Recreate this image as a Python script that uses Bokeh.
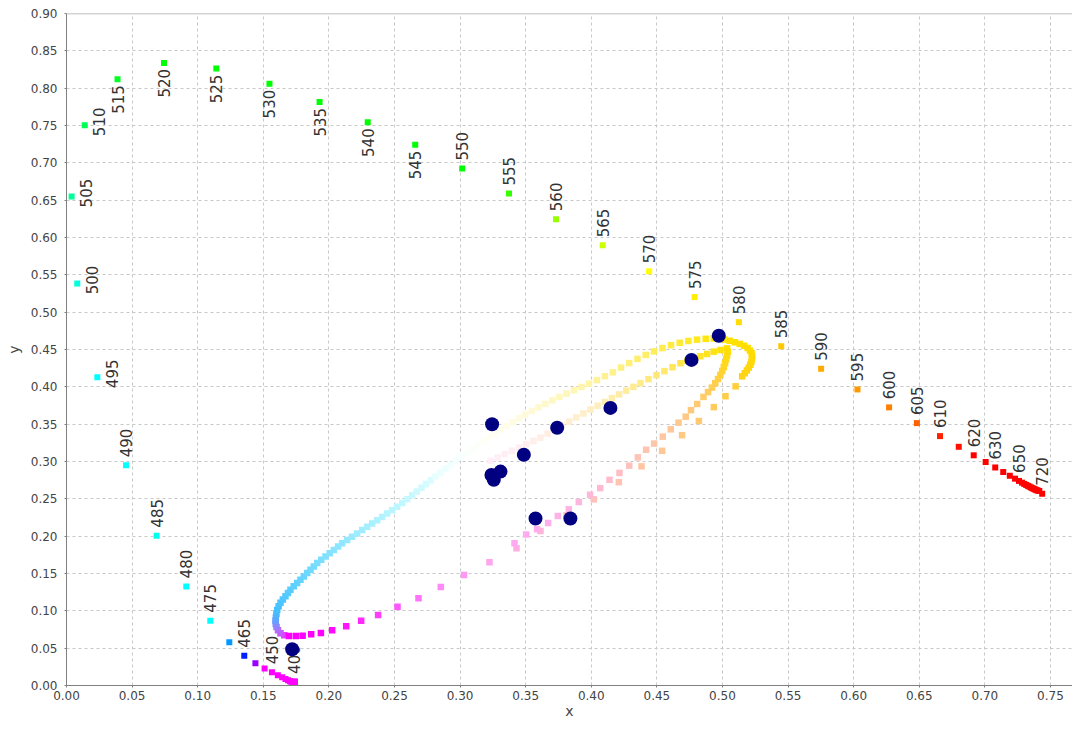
import math
from bokeh.plotting import figure
from bokeh.models import ColumnDataSource, FixedTicker, PrintfTickFormatter, Span
from bokeh.embed import file_html
from bokeh.resources import INLINE
from bokeh.core.properties import value

# ---------------- data ----------------
wavelengths = list(range(380, 725, 5))
locus_x = [0.1741, 0.1740, 0.1738, 0.1736, 0.1733, 0.1730, 0.1726, 0.1721, 0.1714, 0.1703,
           0.1689, 0.1669, 0.1644, 0.1611, 0.1566, 0.1510, 0.1440, 0.1355, 0.1241, 0.1096,
           0.0913, 0.0687, 0.0454, 0.0235, 0.0082, 0.0039, 0.0139, 0.0389, 0.0743, 0.1142,
           0.1547, 0.1929, 0.2296, 0.2658, 0.3016, 0.3373, 0.3731, 0.4087, 0.4441, 0.4788,
           0.5125, 0.5448, 0.5752, 0.6029, 0.6270, 0.6482, 0.6658, 0.6801, 0.6915, 0.7006,
           0.7079, 0.7140, 0.7190, 0.7230, 0.7260,
           0.7283, 0.7300, 0.7315, 0.7328, 0.7340, 0.7351, 0.7361, 0.7370, 0.7379, 0.7387,
           0.7395, 0.7403, 0.7415, 0.7437]
locus_y = [0.0050, 0.0050, 0.0049, 0.0049, 0.0048, 0.0048, 0.0048, 0.0048, 0.0051, 0.0058,
           0.0069, 0.0086, 0.0109, 0.0138, 0.0177, 0.0227, 0.0297, 0.0399, 0.0578, 0.0868,
           0.1327, 0.2007, 0.2950, 0.4127, 0.5384, 0.6548, 0.7502, 0.8120, 0.8338, 0.8262,
           0.8059, 0.7816, 0.7543, 0.7243, 0.6923, 0.6589, 0.6245, 0.5896, 0.5547, 0.5202,
           0.4866, 0.4544, 0.4242, 0.3965, 0.3725, 0.3514, 0.3340, 0.3197, 0.3083, 0.2993,
           0.2920, 0.2859, 0.2809, 0.2770, 0.2740,
           0.2717, 0.2700, 0.2686, 0.2674, 0.2663, 0.2653, 0.2644, 0.2636, 0.2629, 0.2622,
           0.2616, 0.2611, 0.2605, 0.2568]

label_wl = [400, 450, 465, 475, 480, 485, 490, 495, 500, 505, 510, 515, 520, 525, 530, 535,
            540, 545, 550, 555, 560, 565, 570, 575, 580, 585, 590, 595, 600, 605, 610, 620,
            630, 650, 720]

# outer loop, in order: bend, cyan arc, pale arc, top arc, turn, descending row
bend_x = [0.1660, 0.1631, 0.1612, 0.1601, 0.1595, 0.1593, 0.1596, 0.1600]
bend_y = [0.0672, 0.0700, 0.0740, 0.0782, 0.0825, 0.0868, 0.0910, 0.0960]
cyan_x = [0.1606, 0.1617, 0.1631, 0.1649, 0.1669, 0.1688, 0.1707, 0.1732, 0.1758, 0.1783,
          0.1809, 0.1835, 0.1860, 0.1885, 0.1911, 0.1942, 0.1974, 0.2006, 0.2038, 0.2070,
          0.2101, 0.2139, 0.2177, 0.2215, 0.2254, 0.2292, 0.2330, 0.2368, 0.2406, 0.2444,
          0.2482, 0.2520, 0.2559, 0.2597, 0.2635, 0.2670, 0.2705, 0.2740, 0.2775]
cyan_y = [0.1012, 0.1060, 0.1107, 0.1151, 0.1195, 0.1240, 0.1284, 0.1329, 0.1373, 0.1417,
          0.1461, 0.1506, 0.1550, 0.1595, 0.1639, 0.1683, 0.1727, 0.1771, 0.1815, 0.1860,
          0.1904, 0.1948, 0.1992, 0.2037, 0.2081, 0.2126, 0.2170, 0.2214, 0.2258, 0.2302,
          0.2347, 0.2395, 0.2445, 0.2496, 0.2548, 0.2598, 0.2648, 0.2698, 0.2748]
pale_x = [0.2812, 0.2850, 0.2888, 0.2927, 0.2966, 0.3006, 0.3047, 0.3089, 0.3131, 0.3174,
          0.3218, 0.3262, 0.3307, 0.3353, 0.3400, 0.3448, 0.3497, 0.3547, 0.3598, 0.3650,
          0.3703, 0.3757, 0.3812, 0.3868, 0.3925, 0.3983]
pale_y = [0.2800, 0.2852, 0.2904, 0.2956, 0.3008, 0.3060, 0.3112, 0.3164, 0.3216, 0.3268,
          0.3320, 0.3372, 0.3424, 0.3476, 0.3527, 0.3578, 0.3628, 0.3677, 0.3725, 0.3772,
          0.3818, 0.3864, 0.3909, 0.3954, 0.3998, 0.4042]
top_x = [0.4043, 0.4104, 0.4165, 0.4227, 0.4289, 0.4352, 0.4415, 0.4478, 0.4542, 0.4608,
         0.4674, 0.4740, 0.4806, 0.4872, 0.4934]
top_y = [0.4090, 0.4142, 0.4194, 0.4258, 0.4318, 0.4374, 0.4427, 0.4475, 0.4519, 0.4558,
         0.4590, 0.4614, 0.4632, 0.4643, 0.4648]
turn_x = [0.4975, 0.5015, 0.5055, 0.5095, 0.5132, 0.5165, 0.5192, 0.5210, 0.5222, 0.5226,
          0.5225, 0.5220, 0.5212, 0.5200, 0.5186, 0.5170, 0.5150]
turn_y = [0.4645, 0.4633, 0.4617, 0.4597, 0.4575, 0.4550, 0.4520, 0.4485, 0.4448, 0.4410,
          0.4372, 0.4334, 0.4296, 0.4258, 0.4220, 0.4182, 0.4140]
rowb_x = [0.5100, 0.5023, 0.4934, 0.4820, 0.4692, 0.4540, 0.4383, 0.4210, 0.4019, 0.3811,
          0.3613, 0.3430, 0.3224, 0.3030, 0.2853, 0.2683, 0.2523, 0.2375, 0.2246, 0.2132,
          0.2025, 0.1939, 0.1865, 0.1800, 0.1748, 0.1695]
rowb_y = [0.4007, 0.3874, 0.3728, 0.3542, 0.3352, 0.3143, 0.2935, 0.2723, 0.2493, 0.2280,
          0.2068, 0.1838, 0.1650, 0.1480, 0.1320, 0.1169, 0.1054, 0.0943, 0.0868, 0.0793,
          0.0740, 0.0704, 0.0687, 0.0667, 0.0664, 0.0664]

# inner curve: rising branch and steep descending branch
innerA_x = [0.3232, 0.3286, 0.3341, 0.3395, 0.3450, 0.3504, 0.3559, 0.3613, 0.3667, 0.3722,
            0.3776, 0.3831, 0.3885, 0.3940, 0.3994, 0.4048, 0.4103, 0.4157, 0.4212, 0.4266,
            0.4321, 0.4375, 0.4436, 0.4497, 0.4558, 0.4619, 0.4680, 0.4731, 0.4782, 0.4832,
            0.4883, 0.4934, 0.4985, 0.5035]
innerA_y = [0.3010, 0.3054, 0.3099, 0.3143, 0.3187, 0.3231, 0.3276, 0.3320, 0.3374, 0.3428,
            0.3482, 0.3535, 0.3589, 0.3643, 0.3697, 0.3747, 0.3798, 0.3848, 0.3899, 0.3949,
            0.4000, 0.4050, 0.4103, 0.4156, 0.4210, 0.4263, 0.4316, 0.4347, 0.4378, 0.4409,
            0.4440, 0.4471, 0.4493, 0.4515]
innerB_x = [0.5040, 0.5035, 0.5028, 0.5020, 0.5010, 0.4998, 0.4984, 0.4966, 0.4945, 0.4920,
            0.4890, 0.4855, 0.4807, 0.4760, 0.4720, 0.4665, 0.4606, 0.4545, 0.4479, 0.4418,
            0.4355, 0.4289, 0.4215, 0.4139, 0.4068, 0.3991, 0.3905, 0.3829, 0.3745, 0.3671,
            0.3587, 0.3504, 0.3415]
innerB_y = [0.4470, 0.4420, 0.4370, 0.4318, 0.4265, 0.4212, 0.4160, 0.4105, 0.4048, 0.3990,
            0.3930, 0.3865, 0.3770, 0.3688, 0.3600, 0.3520, 0.3431, 0.3333, 0.3240, 0.3157,
            0.3055, 0.2944, 0.2847, 0.2754, 0.2643, 0.2555, 0.2457, 0.2360, 0.2271, 0.2178,
            0.2094, 0.2022, 0.1905]

dots_x = [0.1720, 0.4972, 0.4764, 0.3244, 0.3740, 0.4146, 0.3486, 0.3308, 0.3239, 0.3257,
          0.3575, 0.3841]
dots_y = [0.0486, 0.4684, 0.4361, 0.3498, 0.3453, 0.3718, 0.3090, 0.2865, 0.2820, 0.2754,
          0.2236, 0.2236]

x_ticks = [0.00, 0.05, 0.10, 0.15, 0.20, 0.25, 0.30, 0.35, 0.40, 0.45, 0.50, 0.55, 0.60,
           0.65, 0.70, 0.75]
y_ticks = [0.00, 0.05, 0.10, 0.15, 0.20, 0.25, 0.30, 0.35, 0.40, 0.45, 0.50, 0.55, 0.60,
           0.65, 0.70, 0.75, 0.80, 0.85, 0.90]

# ---------------- styling helpers ----------------
def spec_color(w):
    table = {460: "#9900ff", 465: "#0022ff", 470: "#0099ff", 475: "#00ffff", 480: "#00ffff",
             485: "#00fff0", 490: "#00ffff", 495: "#00ffff", 500: "#00ffdd", 505: "#00ff99",
             510: "#00ff55", 515: "#00ff22", 555: "#33ff00", 560: "#99ff00", 565: "#ccff00",
             570: "#ffff00", 575: "#ffee00", 580: "#ffdd00", 585: "#ffc800", 590: "#ffaa00",
             595: "#ff9900", 600: "#ff8000", 605: "#ff6000", 610: "#ff2200", 615: "#ff1000"}
    if w <= 455:
        return "#ff00ff"
    if w in table:
        return table[w]
    if 520 <= w <= 550:
        return "#00ff00"
    return "#ff0000"


def _rgb(h):
    return tuple(int(h[i:i + 2], 16) for i in (1, 3, 5))


def ramp(n, stops):
    out = []
    for i in range(n):
        t = (i / (n - 1)) * (len(stops) - 1) if n > 1 else 0
        k = min(int(t), len(stops) - 2)
        f = t - k
        a, b = _rgb(stops[k]), _rgb(stops[k + 1])
        out.append("#%02x%02x%02x" % tuple(round(a[j] + (b[j] - a[j]) * f) for j in range(3)))
    return out


spec_colors = [spec_color(w) for w in wavelengths]

outer_x = bend_x + cyan_x + pale_x + top_x + turn_x + rowb_x
outer_y = bend_y + cyan_y + pale_y + top_y + turn_y + rowb_y
outer_c = (ramp(len(bend_x), ["#e040ff", "#b070ff", "#7098ff", "#48b8ff"]) +
           ramp(len(cyan_x), ["#44c0ff", "#66d4ff", "#8ce6ff", "#b4f4ff", "#d8fcff"]) +
           ramp(len(pale_x), ["#e8ffff", "#f8ffff", "#fffff4", "#fffbe0", "#fff8c4", "#fff4a8"]) +
           ramp(len(top_x), ["#fff29a", "#fff080", "#ffee5c", "#ffeb30", "#ffe600"]) +
           ramp(len(turn_x), ["#ffe400", "#ffdc00", "#ffd418"]) +
           ramp(len(rowb_x), ["#ffd038", "#ffcc5c", "#ffc888", "#ffc6a8", "#ffc0c0", "#ffb4dc",
                              "#ffa0f0", "#ff80fa", "#ff44ff", "#ff18ff", "#ff00ff", "#ff00ff",
                              "#ff00ff"]))
inner_x = innerA_x + innerB_x
inner_y = innerA_y + innerB_y
inner_c = (ramp(len(innerA_x), ["#ffeef8", "#ffeeee", "#ffeedd", "#ffeec4", "#ffeca0",
                                "#ffe970", "#ffe430", "#ffe000"]) +
           ramp(len(innerB_x), ["#ffde00", "#ffd820", "#ffd040", "#ffcc66", "#ffc888",
                                "#ffc6a6", "#ffc0c0", "#ffb8d8", "#ffb0ea", "#ffaaf0"]))

# ---------------- figure ----------------
p = figure(width=1072, height=721, x_range=(0, 0.7668), y_range=(0, 0.9),
           output_backend="svg", toolbar_location=None,
           min_border_left=66, min_border_right=0, min_border_top=13, min_border_bottom=35,
           background_fill_color="white", border_fill_color="white")
p.outline_line_color = None

for ax, ticks in ((p.xaxis, x_ticks), (p.yaxis, y_ticks)):
    ax.ticker = FixedTicker(ticks=ticks)
    ax.formatter = PrintfTickFormatter(format="%.2f")
    ax.minor_tick_line_color = None
    ax.major_tick_in = 0
    ax.major_tick_out = 2
    ax.major_tick_line_color = "#808080"
    ax.axis_line_color = "#808080"
    ax.major_label_text_font = "DejaVu Sans"
    ax.major_label_text_font_size = "12px"
    ax.major_label_text_color = "#444444"
    ax.axis_label_text_font = "DejaVu Sans"
    ax.axis_label_text_font_size = "14px"
    ax.axis_label_text_font_style = "normal"
    ax.axis_label_text_color = "#444444"
p.xaxis.axis_label = "x"
p.yaxis.axis_label = "y"
p.xaxis.major_label_standoff = 3
p.xaxis.axis_label_standoff = 0
p.yaxis.major_label_standoff = 7
p.yaxis.axis_label_standoff = 6

p.xgrid.ticker = FixedTicker(ticks=x_ticks)
p.ygrid.ticker = FixedTicker(ticks=y_ticks)
for g in (p.xgrid, p.ygrid):
    g.grid_line_color = "#c8c8c8"
    g.grid_line_dash = "3 3"
    g.grid_line_width = 1

p.add_layout(Span(location=0.9, dimension="width", line_color="#a8a8a8", line_width=1.5))

p.scatter(locus_x, locus_y, marker="square", size=6, fill_color=spec_colors, line_color=None)
p.scatter(outer_x, outer_y, marker="square", size=6.5, fill_color=outer_c, line_color=None)
p.scatter(inner_x, inner_y, marker="square", size=6.5, fill_color=inner_c, line_color=None)

# wavelength labels
groups = {"above": dict(align="left", dx=0, dy=-8),
          "right": dict(align="center", dx=14.5, dy=-3.5),
          "below": dict(align="right", dx=0, dy=6)}
for side, st in groups.items():
    xs, ys, ts = [], [], []
    for w in label_wl:
        s = "right" if 495 <= w <= 510 else ("below" if 515 <= w <= 545 else "above")
        if s != side:
            continue
        i = wavelengths.index(w)
        xs.append(locus_x[i]); ys.append(locus_y[i]); ts.append(str(w))
    src = ColumnDataSource(dict(x=xs, y=ys, t=ts))
    p.text(x="x", y="y", text="t", source=src, angle=math.pi / 2,
           text_align=st["align"], text_baseline="middle",
           x_offset=st["dx"], y_offset=st["dy"],
           text_font=value("DejaVu Sans"), text_font_size="15px", text_color="#333333")

p.scatter(dots_x, dots_y, marker="circle", size=14, fill_color="#000080", line_color=None)

open("out.html", "w").write(file_html(p, INLINE))
